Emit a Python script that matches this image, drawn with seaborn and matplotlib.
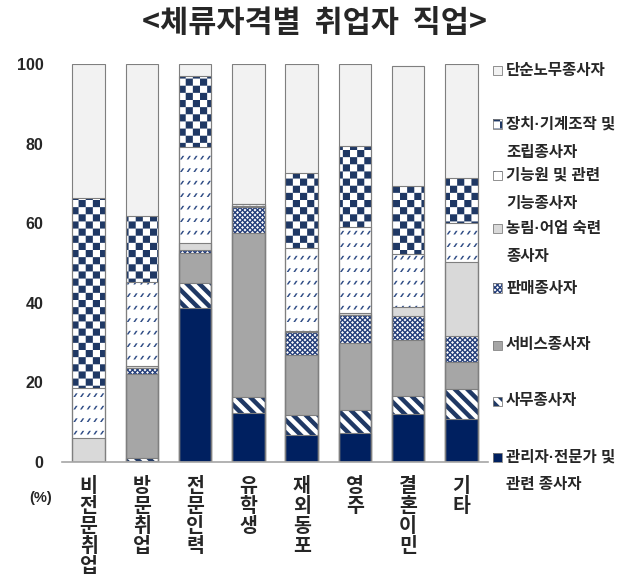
# -*- coding: utf-8 -*-
"""
체류자격별 취업자 직업 — 100% 누적 막대그래프 (seaborn)
엑셀식 패턴 채우기(체크무늬, 사선 등)는 사용자 정의 hatch 로 흉내낸다.
"""
import warnings

import numpy as np
import matplotlib
matplotlib.use("Agg")
import matplotlib.pyplot as plt
import matplotlib.hatch as mhatch
from matplotlib.patches import Rectangle
from matplotlib.path import Path
import seaborn as sns

warnings.filterwarnings("ignore")

# ---- 데이터 (%) ----
categories = ["비전문취업", "방문취업", "전문인력", "유학생", "재외동포", "영주", "결혼이민", "기타"]
manager = [0.0, 0.3, 38.8, 12.2, 6.8, 7.4, 12.0, 10.8]      # 관리자·전문가 및 관련 종사자
clerk = [0.0, 0.6, 6.3, 4.1, 5.0, 5.7, 4.7, 7.5]             # 사무종사자
service = [0.0, 21.1, 7.5, 41.3, 15.1, 16.7, 14.0, 6.9]      # 서비스종사자
sales = [0.0, 1.5, 0.7, 6.5, 5.7, 7.1, 6.0, 6.5]             # 판매종사자
farm = [6.0, 0.7, 1.6, 0.3, 0.4, 0.5, 2.2, 18.6]             # 농림·어업 숙련 종사자
craft = [12.5, 21.1, 24.3, 0.3, 20.8, 21.7, 13.3, 9.8]       # 기능원 및 관련 기능종사자
machine = [47.8, 16.6, 17.9, 0.1, 18.9, 20.3, 17.2, 11.2]    # 장치·기계조작 및 조립종사자
labor = [33.7, 38.1, 2.9, 35.2, 27.3, 20.6, 30.2, 28.7]      # 단순노무종사자

series_labels = ["관리자·전문가 및\n관련 종사자", "사무종사자", "서비스종사자", "판매종사자",
                 "농림·어업 숙련\n종사자", "기능원 및 관련\n기능종사자",
                 "장치·기계조작 및\n조립종사자", "단순노무종사자"]
yticks = [0, 20, 40, 60, 80, 100]

# ---- 스타일 (아래→위 순서) ----
faces = ["#002060", "white", "#A6A6A6", "#1F3A78", "#D9D9D9", "white", "white", "#F2F2F2"]
hatches = [None, "s", None, "p", None, "d", "c", None]
hatch_cols = ["#002060", "#1F3864", "#A6A6A6", "white", "#D9D9D9", "#2F4C85", "#1F3864", "#F2F2F2"]
EDGE = "#7F7F7F"
KOR = ["Liberation Sans", "Noto Sans CJK KR"]   # 라틴/기호는 Liberation, 한글은 Noto


# ---- 사용자 정의 hatch (채워진 다각형) ----
class _FilledHatch(mhatch.HatchPatternBase):
    char = ""

    def __init__(self, hatch, density):
        self.polys = self.polygons() if (hatch and self.char in hatch) else []
        self.num_vertices = sum(len(p) + 1 for p in self.polys)

    def set_vertices_and_codes(self, vertices, codes):
        i = 0
        for p in self.polys:
            n = len(p)
            vertices[i:i + n] = p
            vertices[i + n] = p[0]
            codes[i] = Path.MOVETO
            codes[i + 1:i + n] = Path.LINETO
            codes[i + n] = Path.CLOSEPOLY
            i += n + 1


class CheckerHatch(_FilledHatch):      # 큰 체크무늬
    char = "c"

    def polygons(self, n=14):
        s = 1 / n
        return [[(i * s, j * s), ((i + 1) * s, j * s), ((i + 1) * s, (j + 1) * s), (i * s, (j + 1) * s)]
                for i in range(n) for j in range(n) if (i + j) % 2 == 0]


class DotHatch(_FilledHatch):          # 잔 점무늬
    char = "p"

    def polygons(self, n=20, r=0.3):
        s = 1 / n
        out = []
        for i in range(n + 1):
            for j in range(n + 1):
                for cx, cy in ((i * s, j * s), ((i + 0.5) * s, (j + 0.5) * s)):
                    out.append([(cx - r * s, cy), (cx, cy - r * s), (cx + r * s, cy), (cx, cy + r * s)])
        return out


class DashHatch(_FilledHatch):         # 짧은 사선 점선
    char = "d"

    def polygons(self, rows=8, cols=15):
        out = []
        for j in range(rows):
            for i in range(cols):
                x, y = i / cols, j / rows + 0.03
                out.append([(x, y), (x + 0.018, y), (x + 0.043, y + 0.037), (x + 0.025, y + 0.037)])
        return out


class StripeHatch(_FilledHatch):       # 굵은 역사선
    char = "s"

    def polygons(self, n=8):
        w = 0.5 / n
        out = []
        for k in range(-n, 2 * n + 1):
            c = k / n
            out.append([(-1, c + 1), (2, c - 2), (2, c + w - 2), (-1, c + w + 1)])
        return out


mhatch._hatch_types.extend([CheckerHatch, DotHatch, DashHatch, StripeHatch])

sns.set_style("white")
plt.rcParams["font.family"] = ["Noto Sans CJK KR", "DejaVu Sans"]
plt.rcParams["hatch.linewidth"] = 0.0

W, H = 629, 579


def fx(px):
    return px / W


def fy(py):
    return 1 - py / H


fig = plt.figure(figsize=(W / 100, H / 100), dpi=100)
ax = fig.add_axes([fx(62), fy(462), fx(488) - fx(62), fy(64) - fy(462)])

values = np.array([manager, clerk, service, sales, farm, craft, machine, labor])
tops = values.cumsum(axis=0)

# 위 계열부터 누적 높이로 그려서 아래 계열이 덮도록
for k in range(len(values) - 1, -1, -1):
    sns.barplot(x=categories, y=tops[k], order=categories, color=faces[k], saturation=1,
                width=0.61, errorbar=None, hatch=hatches[k], edgecolor=hatch_cols[k],
                linewidth=0, ax=ax)

# 회색 테두리
for p in list(ax.patches):
    ax.add_patch(Rectangle(p.get_xy(), p.get_width(), p.get_height(), fill=False,
                           edgecolor=EDGE, linewidth=0.8))

ax.set_xlim(-0.5, len(categories) - 0.5)
ax.set_ylim(0, 100)
ax.set_yticks(yticks)
ax.set_yticklabels([str(t) for t in yticks], fontfamily="Liberation Sans",
                   fontweight="bold", fontsize=11.5)
ax.set_xticks(range(len(categories)))
ax.set_xticklabels(["\n".join(c) for c in categories], fontweight="bold",
                   fontsize=14, linespacing=1.07, va="top")
ax.set_xlabel("")
ax.set_ylabel("")
ax.tick_params(axis="y", length=0, pad=13.5)
ax.tick_params(axis="x", length=0, pad=11)
for s in ("top", "right", "left"):
    ax.spines[s].set_visible(False)
ax.spines["bottom"].set_color("#A6A6A6")
ax.spines["bottom"].set_linewidth(1.2)

fig.text(fx(314), fy(23), "<체류자격별  취업자  직업>", ha="center", va="center",
         fontsize=22, fontweight="bold")
fig.text(fx(41), fy(498), "(%)", ha="center", va="center", fontsize=10.5,
         fontweight="bold", fontfamily="Liberation Sans")

# 범례 (위에서부터: 단순노무 → 관리자)
leg_y = [70, 124, 175, 228, 288, 345, 401, 457]
for pos, k in zip(leg_y, range(len(values) - 1, -1, -1)):
    fig.add_artist(Rectangle((fx(493), fy(pos + 4.5)), 9 / W, 9 / H, transform=fig.transFigure,
                             facecolor=faces[k], hatch=hatches[k], edgecolor=hatch_cols[k],
                             linewidth=0))
    fig.add_artist(Rectangle((fx(493), fy(pos + 4.5)), 9 / W, 9 / H, transform=fig.transFigure,
                             fill=False, edgecolor=EDGE, linewidth=0.6))
    for j, line in enumerate(series_labels[k].split("\n")):
        fig.text(fx(506), fy(pos + 28 * j), line, ha="left", va="center",
                 fontsize=11.2, fontweight="bold", fontfamily=KOR)

fig.savefig("out.png", dpi=100, facecolor="white")
